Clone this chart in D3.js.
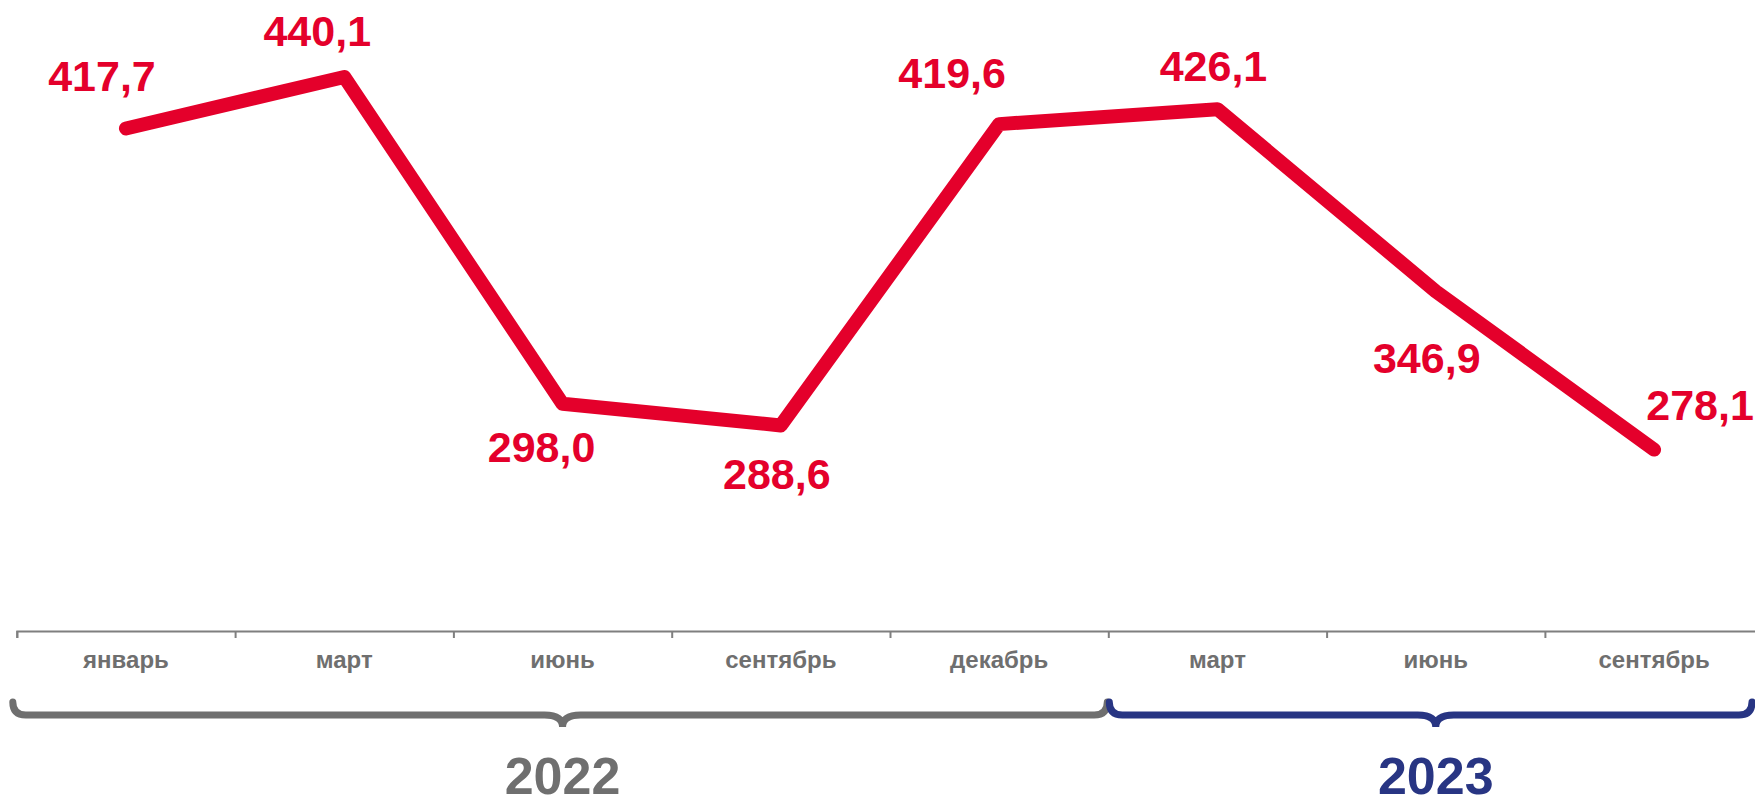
<!DOCTYPE html>
<html>
<head>
<meta charset="utf-8">
<script src="https://cdn.jsdelivr.net/npm/d3@7/dist/d3.min.js"></script>
<style>
  body { margin: 0; background: #fff; }
  text { font-family: "Liberation Sans", Arial, sans-serif; font-weight: bold; }
  .line { fill: none; stroke: #e4002b; stroke-width: 14; stroke-linejoin: round; stroke-linecap: round; }
  .value { fill: #e4002b; font-size: 43px; }
  .axis path, .axis line { stroke: #7f7f7f; stroke-width: 2; }
  .cat text { fill: #6f6f6f; font-size: 24px; }
  .brace { fill: none; stroke-width: 7; stroke-linecap: round; }
  .year { font-size: 52px; }
</style>
</head>
<body>
<div id="chart"></div>
<script>

  // data
  var months = ["январь", "март", "июнь", "сентябрь", "декабрь", "март", "июнь", "сентябрь"];
  var values = [417.7, 440.1, 298.0, 288.6, 419.6, 426.1, 346.9, 278.1];
  var years = ["2022", "2023"];
  var yearSpan = [[0, 5], [5, 8]]; // which month slots belong to each year

  var width = 1755, height = 806;

  // label placement relative to each point (layout, not data)
  var labelShift = [[-24, -37], [-27, -31], [-21, 58], [-4, 64], [-47, -36], [-4, -28], [-9, 82], [46, -30]];
  var yearColor = ["#6f6f6f", "#283583"];

  var xb = d3.scaleLinear() // band boundaries
    .domain([0, months.length])
    .range([16.8, 1763.2]);

  var x = d3.scaleBand()
    .domain(d3.range(months.length))
    .range([16.8, 1763.2]);

  var y = d3.scaleLinear()
    .domain([250, 450])
    .range([514.2, 54.2]);

  var svg = d3.select("#chart").append("svg")
    .attr("width", width)
    .attr("height", height);

  var axisY = 631;

  svg.append("g")
    .attr("class", "axis")
    .attr("transform", "translate(0," + axisY + ")")
    .call(d3.axisBottom(xb).tickValues(d3.range(months.length + 1)).tickSize(7).tickSizeOuter(7).tickFormat(""));

  var cat = svg.append("g")
    .attr("class", "cat")
    .attr("transform", "translate(0," + axisY + ")")
    .call(d3.axisBottom(x).tickSize(0).tickPadding(20).tickFormat(function (i) { return months[i]; }));
  cat.select(".domain").remove();
  cat.selectAll("text").attr("font-size", null).attr("font-family", null);

  // curly braces under the months
  function brace(x0, x1, xm) {
    var y0 = 702, y1 = 715, y2 = 727, r = 13, r2 = 18;
    return "M" + x0 + "," + y0 +
      " Q" + x0 + "," + y1 + " " + (x0 + r) + "," + y1 +
      " H" + (xm - r2) +
      " Q" + xm + "," + y1 + " " + xm + "," + y2 +
      " Q" + xm + "," + y1 + " " + (xm + r2) + "," + y1 +
      " H" + (x1 - r) +
      " Q" + x1 + "," + y1 + " " + x1 + "," + y0;
  }

  years.forEach(function (yr, k) {
    var a = xb(yearSpan[k][0]), b = Math.min(xb(yearSpan[k][1]), 1752);
    var mid = (xb(yearSpan[k][0]) + xb(yearSpan[k][1])) / 2;
    svg.append("path")
      .attr("class", "brace")
      .attr("stroke", yearColor[k])
      .attr("d", brace(k === 0 ? a - 4 : a + 1, k === 0 ? b - 1 : b, mid));
    svg.append("text")
      .attr("class", "year")
      .attr("x", mid)
      .attr("y", 794)
      .attr("text-anchor", "middle")
      .attr("fill", yearColor[k])
      .text(yr);
  });

  var line = d3.line()
    .x(function (d, i) { return x(i) + x.bandwidth() / 2; })
    .y(function (d) { return y(d); });

  svg.append("path")
    .datum(values)
    .attr("class", "line")
    .attr("d", line);

  svg.selectAll(".value")
    .data(values)
    .enter().append("text")
    .attr("class", "value")
    .attr("text-anchor", "middle")
    .attr("x", function (d, i) { return x(i) + x.bandwidth() / 2 + labelShift[i][0]; })
    .attr("y", function (d, i) { return y(d) + labelShift[i][1]; })
    .text(function (d) { return d.toFixed(1).replace(".", ","); });

</script>
</body>
</html>
